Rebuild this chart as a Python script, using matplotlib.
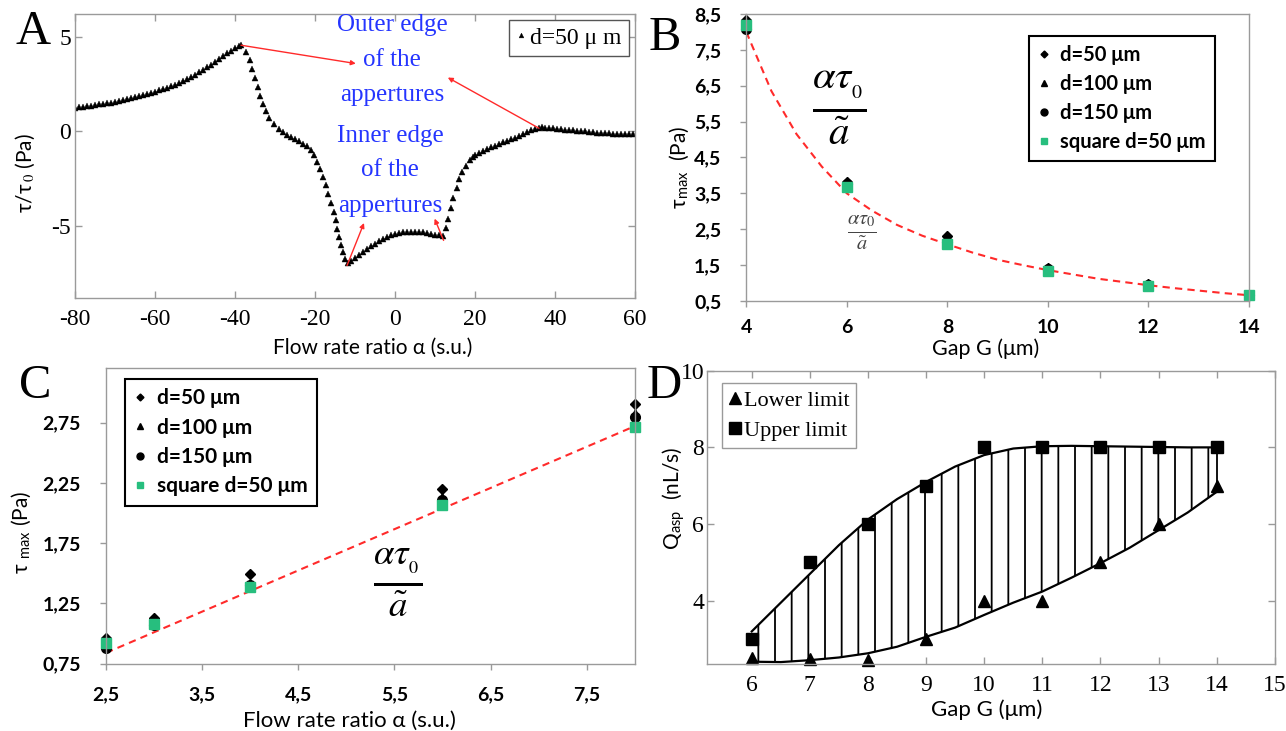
import matplotlib
matplotlib.use("Agg")
import matplotlib.pyplot as plt
from matplotlib.lines import Line2D

plt.rcParams['mathtext.fontset'] = 'stix'
plt.rcParams['hatch.linewidth'] = 1.3
plt.rcParams['axes.unicode_minus'] = False

SERIF = ['Liberation Serif', 'DejaVu Serif']
SANS = ['Lato', 'DejaVu Sans']

# ---- panel A: shear stress along the channel
alpha_a = [-80, -79, -78, -77, -76, -75, -74, -73, -72, -71, -70, -69, -68, -67, -66, -65,
           -64, -63, -62, -61, -60, -59, -58, -57, -56, -55, -54, -53, -52, -51, -50, -49,
           -48, -47, -46, -45, -44, -43, -42, -41, -40, -39, -38.6,
           -37.3, -36.3, -35.7, -35.0, -34.3, -33.7, -33.1, -32.3, -31.4, -30.3, -29.0,
           -28.0, -27.0, -26.0, -25.0, -24.0, -23.0, -22.0, -21.0, -20.2,
           -19.5, -18.7, -17.9, -17.25, -16.7, -16.0, -15.3, -14.8, -14.4, -14.0, -13.6,
           -13.1, -12.4, -11.8,
           -11, -10, -9, -8, -7, -6, -5, -4, -3, -2, -1, 0, 1, 2, 3, 4, 5, 6, 7, 8, 9, 10,
           11, 12,
           12.75, 13.3, 13.9, 14.6, 15.4, 16.1, 16.8, 17.7, 18.75,
           19.5, 20, 21, 22, 23, 24, 25, 26, 27, 28, 29, 30, 31, 32, 33, 34, 35, 36, 36.7,
           37.5, 38.5, 39.5, 40.5, 41.5, 42.5, 43.5, 44.5, 45.5, 46.5, 47.5, 48.5, 49.5,
           50.5, 51.5, 52.5, 53.5, 54.5, 55.5, 56.5, 57.5, 58.5, 59.5]
tau_a = [1.25, 1.27, 1.30, 1.33, 1.36, 1.39, 1.42, 1.45, 1.49, 1.52, 1.56, 1.60, 1.64, 1.69,
         1.74, 1.79, 1.85, 1.91, 1.97, 2.03, 2.10, 2.16, 2.23, 2.30, 2.38, 2.46, 2.55, 2.65,
         2.76, 2.87, 2.98, 3.11, 3.24, 3.38, 3.52, 3.67, 3.83, 3.98, 4.13, 4.27, 4.40, 4.51,
         4.55,
         4.2, 3.79, 3.28, 2.8, 2.32, 1.86, 1.45, 1.07, 0.72, 0.4, 0.12,
         -0.05, -0.18, -0.3, -0.42, -0.54, -0.66, -0.8, -0.98, -1.25,
         -1.65, -1.98, -2.42, -2.86, -3.3, -3.77, -4.25, -4.7, -5.15, -5.6, -6.03,
         -6.4, -6.75, -6.98,
         -6.85, -6.68, -6.52, -6.38, -6.22, -6.07, -5.94, -5.82, -5.70, -5.60, -5.51, -5.44,
         -5.38, -5.34, -5.31, -5.30, -5.30, -5.32, -5.35, -5.38, -5.42, -5.46, -5.51, -5.55,
         -5.1, -4.62, -4.04, -3.51, -3.0, -2.5, -2.15, -1.85, -1.53,
         -1.38, -1.27, -1.13, -1.02, -0.93, -0.84, -0.76, -0.67, -0.58, -0.5, -0.42, -0.33,
         -0.24, -0.14, -0.04, 0.05, 0.12, 0.18, 0.2,
         0.19, 0.17, 0.15, 0.13, 0.11, 0.09, 0.07, 0.05, 0.03, 0.01, -0.01, -0.03, -0.05,
         -0.07, -0.09, -0.1, -0.11, -0.12, -0.13, -0.14, -0.15, -0.16, -0.16]

# ---- panel B: max shear stress vs gap
gap_b = [4, 6, 8, 10, 12, 14]
b_d50 = [8.33, 3.82, 2.30, 1.42, 0.97, 0.68]
b_d100 = [8.25, 3.78, 2.22, 1.40, 0.95, 0.67]
b_d150 = [8.07, 3.76, 2.15, 1.38, 0.94, 0.66]
b_square = [8.20, 3.68, 2.10, 1.35, 0.93, 0.66]
gap_fit_b = [4, 4.5, 5, 5.5, 6, 6.5, 7, 7.5, 8, 8.5, 9, 9.5, 10, 10.5, 11, 11.5, 12, 12.5,
             13, 13.5, 14]
tau_fit_b = [8.0, 6.35, 5.15, 4.25, 3.5, 3.02, 2.62, 2.32, 2.08, 1.85, 1.65, 1.5, 1.36,
             1.24, 1.12, 1.03, 0.94, 0.86, 0.79, 0.72, 0.66]

# ---- panel C: max shear stress vs flow rate ratio
alpha_c = [2.5, 3, 4, 6, 8]
c_d50 = [0.96, 1.13, 1.49, 2.20, 2.90]
c_d100 = [0.92, 1.11, 1.42, 2.13, 2.83]
c_d150 = [0.88, 1.07, 1.40, 2.11, 2.80]
c_square = [0.92, 1.08, 1.39, 2.07, 2.715]
alpha_fit_c = [2.5, 8]
tau_fit_c = [0.84, 2.72]

# ---- panel D: aspiration flow rate window
gap_d = [6, 7, 8, 9, 10, 11, 12, 13, 14]
q_lower = [2.5, 2.48, 2.45, 3.0, 4.0, 4.0, 5.0, 6.0, 7.0]
q_upper = [3.0, 5.0, 6.0, 7.0, 8.0, 8.0, 8.0, 8.0, 8.0]
gap_fit_d = [6, 6.5, 7, 7.5, 8, 8.5, 9, 9.5, 10, 10.5, 11, 11.5, 12, 12.5, 13, 13.5, 14]
q_fit_lower = [2.41, 2.40, 2.45, 2.52, 2.63, 2.80, 3.06, 3.30, 3.63, 3.95, 4.24, 4.60,
               4.98, 5.38, 5.84, 6.30, 6.84]
q_fit_upper = [3.2, 3.95, 4.7, 5.45, 6.12, 6.65, 7.1, 7.5, 7.8, 7.97, 8.03, 8.04, 8.03,
               8.02, 8.01, 8.0, 8.0]

GREEN = '#27be7e'
RED = '#ff2a2a'
BLUE = '#2535ff'
SPINE = '#9a9a9a'

W, H = 1286, 731
fig = plt.figure(figsize=(W / 100, H / 100), dpi=100)


def rect(x0, y0, x1, y1):
    return [x0 / W, 1 - y1 / H, (x1 - x0) / W, (y1 - y0) / H]


def ftext(x, y, s, **kw):
    fig.text(x / W, 1 - y / H, s, ha='center', va='center', **kw)


def style_box(ax, direction, length):
    for sp in ax.spines.values():
        sp.set_color(SPINE)
        sp.set_linewidth(1.0)
    ax.tick_params(direction=direction, length=length, color=SPINE, width=1.0)


# ================= A
axA = fig.add_axes(rect(75, 14, 635, 297.7))
axA.plot(alpha_a, tau_a, ls='none', marker='^', ms=4.3, color='black', mec='black', mew=0.3,
         label='d=50 μ m')
axA.set_xlim(-80, 60)
axA.set_ylim(-8.8, 6.2)
axA.set_xticks([-80, -60, -40, -20, 0, 20, 40, 60])
axA.set_yticks([-5, 0, 5])
style_box(axA, 'in', 5)
axA.tick_params(top=True, right=True)
axA.tick_params(axis='x', pad=8)
axA.tick_params(axis='y', pad=3)
for t in axA.get_xticklabels() + axA.get_yticklabels():
    t.set_family(SERIF)
    t.set_fontsize(17)
ftext(373, 348, 'Flow rate ratio α (s.u.)', family=SANS, fontsize=15)
ftext(25, 173, r'τ/τ$_{\,0}$ (Pa)', family=SANS, fontsize=15, rotation=90)
leg = axA.legend(loc='upper right', bbox_to_anchor=(0.989, 0.979), borderaxespad=0,
                 prop={'family': SERIF, 'size': 17}, handlelength=0.4, handletextpad=0.2,
                 borderpad=0.3, fancybox=False, framealpha=1, markerscale=0.8)
leg.get_frame().set_edgecolor('#555555')

for s, y in [('Outer edge', 5.6), ('of the', 3.76), ('appertures', 1.9)]:
    axA.text(-0.75, y, s, color=BLUE, family=SERIF, fontsize=18, ha='center', va='center')
for s, y in [('Inner edge', -0.26), ('of the', -2.06), ('appertures', -3.97)]:
    axA.text(-1.25, y, s, color=BLUE, family=SERIF, fontsize=18, ha='center', va='center')
arrow = dict(arrowstyle='-|>', color=RED, lw=1.0, mutation_scale=7, shrinkA=0, shrinkB=0)
axA.annotate('', xy=(-9.8, 3.58), xytext=(-38.5, 4.55), arrowprops=arrow)
axA.annotate('', xy=(13.2, 2.84), xytext=(36.0, 0.16), arrowprops=arrow)
axA.annotate('', xy=(-7.75, -4.85), xytext=(-12.0, -7.1), arrowprops=arrow)
axA.annotate('', xy=(9.9, -4.62), xytext=(12.15, -5.77), arrowprops=arrow)


def excel_axes(ax, xt, xtl, yt, ytl, xpad):
    style_box(ax, 'out', 4)
    ax.set_xticks(xt)
    ax.set_xticklabels(xtl)
    ax.set_yticks(yt)
    ax.set_yticklabels(ytl)
    ax.tick_params(axis='x', pad=xpad)
    ax.tick_params(axis='y', pad=14)
    for t in ax.get_xticklabels() + ax.get_yticklabels():
        t.set_family(SANS)
        t.set_fontweight('bold')
        t.set_fontsize(14)


def excel_series(ax, x, d50, d100, d150, sq):
    ax.plot(x, d50, ls='none', marker='D', ms=5, color='black', clip_on=False, label='d=50 μm')
    ax.plot(x, d100, ls='none', marker='^', ms=6, color='black', clip_on=False, label='d=100 μm')
    ax.plot(x, d150, ls='none', marker='o', ms=7, color='black', clip_on=False, label='d=150 μm')
    ax.plot(x, sq, ls='none', marker='s', ms=6.5, color=GREEN, clip_on=False,
            label='square d=50 μm')


def excel_legend(ax, loc, anchor, size):
    handles = [Line2D([], [], ls='none', marker='D', ms=3.5, color='black'),
               Line2D([], [], ls='none', marker='^', ms=4.5, color='black'),
               Line2D([], [], ls='none', marker='o', ms=5, color='black'),
               Line2D([], [], ls='none', marker='s', ms=4.5, color=GREEN)]
    labels = ['d=50 μm', 'd=100 μm', 'd=150 μm', 'square d=50 μm']
    lg = ax.legend(handles, labels, loc=loc, bbox_to_anchor=anchor, borderaxespad=0,
                   fancybox=False, framealpha=1, handlelength=0.6, handletextpad=0.5,
                   borderpad=0.45, labelspacing=0.45,
                   prop={'family': SANS, 'weight': 'bold', 'size': size})
    lg.get_frame().set_edgecolor('black')
    lg.get_frame().set_linewidth(1.5)


# ================= B
axB = fig.add_axes(rect(746.3, 14, 1249, 301))
axB.plot(gap_fit_b, tau_fit_b, color=RED, ls=(0, (3.5, 2.5)), lw=1.5)
excel_series(axB, gap_b, b_d50, b_d100, b_d150, b_square)
axB.set_xlim(4, 14)
axB.set_ylim(0.5, 8.5)
excel_axes(axB, [4, 6, 8, 10, 12, 14], ['4', '6', '8', '10', '12', '14'],
           [0.5, 1.5, 2.5, 3.5, 4.5, 5.5, 6.5, 7.5, 8.5],
           ['0,5', '1,5', '2,5', '3,5', '4,5', '5,5', '6,5', '7,5', '8,5'], 9)
excel_legend(axB, 'upper right', (0.932, 0.923), 14.5)
axB.text(5.86, 5.9, r'$\frac{\alpha\tau_{_0}}{\tilde{a}}$', fontsize=42, ha='center', va='center')
axB.text(6.3, 2.4, r'$\frac{\alpha\tau_0}{\tilde{a}}$', fontsize=21, ha='center', va='center',
         color='#444444')
ftext(986, 349, 'Gap G (μm)', family=SANS, fontsize=15.5)
ftext(679, 167, r'τ$_{\mathregular{max}}$  (Pa)', family=SANS, fontsize=15, rotation=90)

# ================= C
axC = fig.add_axes(rect(106, 368.3, 634.7, 663.7))
axC.plot(alpha_fit_c, tau_fit_c, color=RED, ls=(0, (3.5, 2.5)), lw=1.5)
excel_series(axC, alpha_c, c_d50, c_d100, c_d150, c_square)
axC.set_xlim(2.5, 8)
axC.set_ylim(0.75, 3.2)
excel_axes(axC, [2.5, 3.5, 4.5, 5.5, 6.5, 7.5], ['2,5', '3,5', '4,5', '5,5', '6,5', '7,5'],
           [0.75, 1.25, 1.75, 2.25, 2.75], ['0,75', '1,25', '1,75', '2,25', '2,75'], 12)
excel_legend(axC, 'upper left', (0.035, 0.964), 15)
axC.text(5.535, 1.43, r'$\frac{\alpha\tau_{_0}}{\tilde{a}}$', fontsize=38, ha='center', va='center')
ftext(349, 721, 'Flow rate ratio α (s.u.)', family=SANS, fontsize=16)
ftext(21, 532, r'τ $_{\mathregular{max}}$ (Pa)', family=SANS, fontsize=15, rotation=90)

# ================= D
axD = fig.add_axes(rect(707, 370.7, 1274.8, 664))
axD.fill_between(gap_fit_d, q_fit_lower, q_fit_upper, facecolor='none', edgecolor='black',
                 hatch='|', linewidth=0)
axD.vlines(gap_fit_d[-1], q_fit_lower[-1], q_fit_upper[-1], color='black', lw=1.3)
axD.plot(gap_fit_d, q_fit_upper, color='black', lw=1.6)
axD.plot(gap_fit_d, q_fit_lower, color='black', lw=1.6)
axD.plot(gap_d, q_lower, ls='none', marker='^', ms=9, color='black', label='Lower limit',
         clip_on=False)
axD.plot(gap_d, q_upper, ls='none', marker='s', ms=9, color='black', label='Upper limit',
         clip_on=False)
axD.set_xlim(5.23, 15)
axD.set_ylim(2.35, 10)
axD.set_xticks(range(6, 16))
axD.set_yticks([4, 6, 8, 10])
style_box(axD, 'in', 5)
axD.tick_params(top=True, right=True)
axD.tick_params(axis='x', pad=8)
axD.tick_params(axis='y', pad=2)
for t in axD.get_xticklabels() + axD.get_yticklabels():
    t.set_family(SERIF)
    t.set_fontsize(17)
lgD = axD.legend(loc='upper left', bbox_to_anchor=(0.026, 0.957), borderaxespad=0,
                 fancybox=False, framealpha=1, handlelength=0.6, handletextpad=0.1,
                 borderpad=0.3, labelspacing=0.45, prop={'family': SERIF, 'size': 16},
                 markerscale=0.95)
lgD.get_frame().set_edgecolor(SPINE)
ftext(987, 710, 'Gap G (μm)', family=SANS, fontsize=16)
ftext(674, 498, r'Q$_{\mathregular{asp}}$  (nL/s)', family=SANS, fontsize=15, rotation=90)

# panel letters
for s, x, y in [('A', 33, 32), ('B', 665, 38), ('C', 35, 386), ('D', 664, 386)]:
    ftext(x, y, s, family=SERIF, fontsize=35)

fig.savefig('out.png', dpi=100)
